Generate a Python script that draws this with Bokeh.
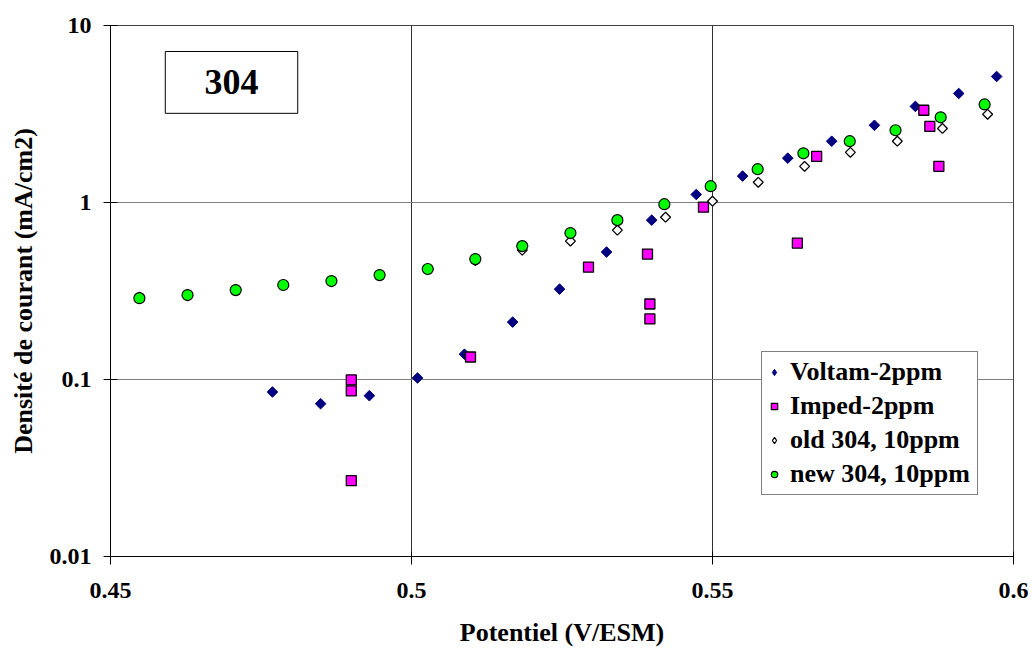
import numpy as np
from bokeh.plotting import figure
from bokeh.models import (FixedTicker, CustomJSTickFormatter, Legend, LegendItem,
                          BoxAnnotation, Label)
from bokeh.embed import file_html
from bokeh.resources import INLINE

# ---- data ----
voltam_x = [0.4769, 0.4849, 0.4930, 0.5010, 0.5088, 0.5168, 0.5246, 0.5324, 0.5399,
            0.5473, 0.5550, 0.5625, 0.5698, 0.5769, 0.5837, 0.5909, 0.5972]
voltam_y = [0.085, 0.073, 0.081, 0.102, 0.139, 0.211, 0.324, 0.525, 0.795,
            1.11, 1.41, 1.78, 2.22, 2.73, 3.49, 4.13, 5.15]

imped_x = [0.4900, 0.4900, 0.4900, 0.5098, 0.5294, 0.5392, 0.5396, 0.5396, 0.5485,
           0.5641, 0.5673, 0.5851, 0.5861, 0.5876]
imped_y = [0.0995, 0.0863, 0.0268, 0.134, 0.431, 0.511, 0.267, 0.220, 0.941,
           0.589, 1.82, 3.32, 2.69, 1.60]

old_x = [0.4548, 0.4628, 0.4708, 0.4787, 0.4867, 0.4947, 0.5027, 0.5106, 0.5184,
         0.5264, 0.5342, 0.5422, 0.5500, 0.5576, 0.5653, 0.5729, 0.5807, 0.5882, 0.5957]
old_y = [0.292, 0.302, 0.323, 0.342, 0.358, 0.387, 0.418, 0.470, 0.538,
         0.605, 0.698, 0.826, 1.017, 1.30, 1.60, 1.92, 2.22, 2.62, 3.15]

new_x = [0.4548, 0.4628, 0.4708, 0.4787, 0.4867, 0.4947, 0.5027, 0.5106, 0.5184,
         0.5264, 0.5342, 0.5420, 0.5497, 0.5575, 0.5651, 0.5728, 0.5804, 0.5879, 0.5952]
new_y = [0.288, 0.300, 0.320, 0.342, 0.360, 0.389, 0.421, 0.479, 0.567,
         0.672, 0.795, 0.978, 1.236, 1.542, 1.897, 2.22, 2.56, 3.03, 3.58]

x_ticks = [0.45, 0.5, 0.55, 0.6]
y_ticks = [0.01, 0.1, 1, 10]
series_names = ["Voltam-2ppm", "Imped-2ppm", "old 304, 10ppm", "new 304, 10ppm"]
x_title = "Potentiel (V/ESM)"
y_title = "Densité de courant (mA/cm2)"
box_text = "304"

FONT = "Liberation Serif"

p = figure(width=1028, height=650, x_range=(0.45, 0.6), y_range=(0.01, 10),
           y_axis_type="log", output_backend="svg", toolbar_location=None,
           min_border_left=110, min_border_right=15, min_border_top=25,
           min_border_bottom=94)

p.background_fill_color = "white"
p.border_fill_color = "white"
p.outline_line_color = "#404040"
p.outline_line_width = 1

# axes
p.xaxis.ticker = FixedTicker(ticks=x_ticks)
p.yaxis.ticker = FixedTicker(ticks=y_ticks)
p.xaxis.formatter = CustomJSTickFormatter(code="return tick.toString();")
p.yaxis.formatter = CustomJSTickFormatter(code="return tick.toString();")
for ax in (p.xaxis, p.yaxis):
    ax.axis_line_color = "black"
    ax.major_tick_line_color = "black"
    ax.minor_tick_line_color = None
    ax.major_label_text_font = FONT
    ax.major_label_text_font_style = "bold"
    ax.major_label_text_font_size = "24px"
    ax.major_label_text_color = "black"
    ax.axis_label_text_font = FONT
    ax.axis_label_text_font_style = "bold"
    ax.axis_label_text_font_size = "26px"
    ax.axis_label_text_color = "black"
p.xaxis.major_tick_in = 5
p.xaxis.major_tick_out = 8
p.yaxis.major_tick_in = 7
p.yaxis.major_tick_out = 7
p.xaxis.major_label_standoff = 18
p.yaxis.major_label_standoff = 12
p.xaxis.axis_label = x_title
p.yaxis.axis_label = y_title
p.xaxis.axis_label_standoff = 17
p.yaxis.axis_label_standoff = 9

# grids
p.xgrid.ticker = FixedTicker(ticks=x_ticks)
p.ygrid.ticker = FixedTicker(ticks=y_ticks)
p.xgrid.grid_line_color = "#303030"
p.ygrid.grid_line_color = "#808080"
p.xgrid.grid_line_width = 1
p.ygrid.grid_line_width = 1

# series (rotated squares give Excel-like diamonds)
r1 = p.scatter(voltam_x, voltam_y, marker="square", angle=np.pi / 4, size=7.5,
               fill_color="#000080", line_color="#000080", line_width=1)
r2 = p.scatter(imped_x, imped_y, marker="square", size=10,
               fill_color="#FF00FF", line_color="black", line_width=1.3)
r3 = p.scatter(old_x, old_y, marker="square", angle=np.pi / 4, size=7,
               fill_color="white", line_color="black", line_width=1.3)
r4 = p.scatter(new_x, new_y, marker="circle", size=11,
               fill_color="#00FF00", line_color="black", line_width=1.2)

# legend-only renderers (a single NaN point, so nothing is drawn in the plot)
nan = [float("nan")]
l1 = p.scatter(nan, nan, marker="diamond", fill_color="#000080", line_color="#000080")
l2 = p.scatter(nan, nan, marker="square", fill_color="#FF00FF", line_color="black",
               line_width=1.2)
l3 = p.scatter(nan, nan, marker="diamond", fill_color="white", line_color="black",
               line_width=1.2)
l4 = p.scatter(nan, nan, marker="circle", fill_color="#00FF00", line_color="black",
               line_width=1.2)

legend = Legend(items=[LegendItem(label=n, renderers=[r]) for n, r in
                       zip(series_names, [l1, l2, l3, l4])],
                location=(651, 61))
legend.border_line_color = "black"
legend.border_line_width = 1
legend.background_fill_color = "white"
legend.background_fill_alpha = 1
legend.label_text_font = FONT
legend.label_text_font_style = "bold"
legend.label_text_font_size = "26px"
legend.label_text_color = "black"
legend.glyph_width = 16
legend.glyph_height = 32
legend.label_height = 32
legend.label_width = 183
legend.spacing = 2
legend.padding = 4
legend.margin = 0
legend.label_standoff = 8
p.add_layout(legend, "center")

# "304" box
box = BoxAnnotation(left=0.4591, right=0.4811, bottom=3.19, top=7.13,
                    fill_color="white", fill_alpha=1, line_color="black",
                    line_alpha=1, line_width=1)
p.add_layout(box)
lab = Label(x=0.4701, y=4.77, text=box_text, text_font=FONT,
            text_font_style="bold", text_font_size="36px", text_align="center",
            text_baseline="middle", text_color="black")
p.add_layout(lab)

open("out.html", "w").write(file_html(p, INLINE))
